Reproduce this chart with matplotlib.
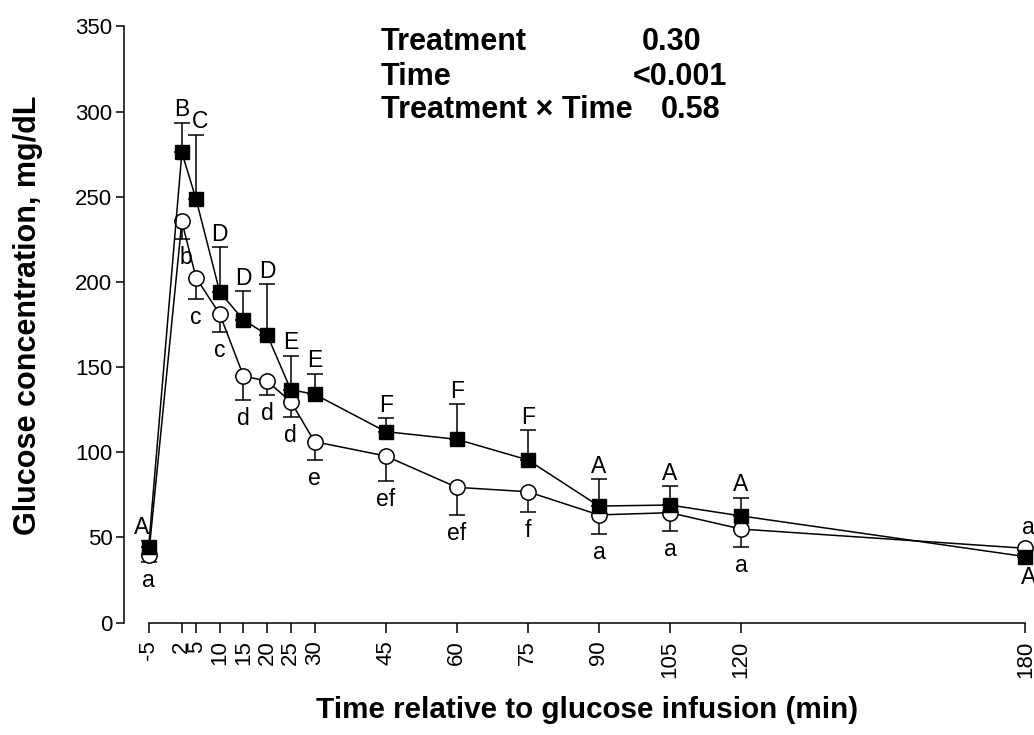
import matplotlib
matplotlib.use("Agg")
import matplotlib.pyplot as plt
import numpy as np

plt.rcParams['font.family'] = ['Liberation Sans', 'DejaVu Sans']

time = [-5, 2, 5, 10, 15, 20, 25, 30, 45, 60, 75, 90, 105, 120, 180]
sq_mean = [44.5, 276.0, 248.6, 194.0, 177.7, 168.9, 136.6, 134.1, 112.1, 107.6, 95.5, 68.4, 69.0, 62.6, 38.7]
sq_se = [3.5, 17.6, 37.8, 26.4, 16.9, 29.8, 20.0, 12.1, 7.9, 20.6, 17.4, 15.9, 11.2, 10.7, 1.5]
ci_mean = [39.7, 235.5, 202.4, 181.1, 144.8, 141.7, 129.7, 106.2, 97.8, 79.4, 76.8, 63.2, 64.5, 54.9, 43.6]
ci_se = [4.3, 10.2, 12.5, 10.6, 14.3, 8.0, 8.8, 10.7, 14.7, 16.1, 12.1, 11.2, 10.6, 10.4, 1.0]
upper_letters = ['A', 'B', 'C', 'D', 'D', 'D', 'E', 'E', 'F', 'F', 'F', 'A', 'A', 'A', 'A']
lower_letters = ['a', 'b', 'c', 'c', 'd', 'd', 'd', 'e', 'ef', 'ef', 'f', 'a', 'a', 'a', 'a']
stats_names = ['Treatment', 'Time', 'Treatment \u00d7 Time']
stats_values = ['0.30', '<0.001', '0.58']

fig = plt.figure(figsize=(10.34, 7.35), dpi=100)
ax = fig.add_axes([0.1195, 0.153, 0.8745, 0.811])

t = np.array(time)
sm, ss = np.array(sq_mean), np.array(sq_se)
cm, cs = np.array(ci_mean), np.array(ci_se)

# circles (lower SE only)
ax.errorbar(t, cm, yerr=[cs, np.zeros_like(cs)], fmt='none', ecolor='black',
            elinewidth=1.1, capsize=6, capthick=1.1, zorder=2, clip_on=False)
ax.plot(t, cm, '-o', color='black', lw=1.1, markersize=11, markerfacecolor='white',
        markeredgecolor='black', markeredgewidth=1.1, zorder=3, clip_on=False)
# squares (upper SE only)
ax.errorbar(t, sm, yerr=[np.zeros_like(ss), ss], fmt='none', ecolor='black',
            elinewidth=1.1, capsize=6, capthick=1.1, zorder=4, clip_on=False)
ax.plot(t, sm, '-s', color='black', lw=1.1, markersize=10, markerfacecolor='black',
        markeredgecolor='black', zorder=5, clip_on=False)

fs = 16.5
for i, tt in enumerate(time):
    if tt == 180:
        ax.annotate(lower_letters[i], (tt, cm[i]), xytext=(2, 7), textcoords='offset points',
                    ha='center', va='bottom', fontsize=fs)
        ax.annotate(upper_letters[i], (tt, sm[i]), xytext=(2, -7), textcoords='offset points',
                    ha='center', va='top', fontsize=fs)
        continue
    dx_u = 0
    if tt == -5:
        dx_u = -5
    elif tt == 5:
        dx_u = 3
    ax.annotate(upper_letters[i], (tt, sm[i] + ss[i]), xytext=(dx_u, 1), textcoords='offset points',
                ha='center', va='bottom', fontsize=fs)
    dx_l = 3 if tt == 2 else 0
    ax.annotate(lower_letters[i], (tt, cm[i] - cs[i]), xytext=(dx_l, -5), textcoords='offset points',
                ha='center', va='top', fontsize=fs)

ax.set_xlim(-10.3, 180.5)
ax.set_ylim(0, 350)
ax.set_xticks(time)
ax.set_xticklabels([str(v) for v in time], rotation=90, fontsize=16)
ax.set_yticks(np.arange(0, 351, 50))
ax.tick_params(axis='y', labelsize=16, direction='out', length=6, width=1.1, pad=2)
ax.tick_params(axis='x', direction='out', length=7, width=1.1, pad=6)
ax.spines['top'].set_visible(False)
ax.spines['right'].set_visible(False)
ax.spines['left'].set_linewidth(1.1)
ax.spines['bottom'].set_linewidth(1.1)
ax.spines['bottom'].set_bounds(-5, 180)

ax.set_ylabel('Glucose concentration, mg/dL', fontsize=22, fontweight='bold')
ax.yaxis.set_label_coords(-0.0896, 0.515)
ax.set_xlabel('Time relative to glucose infusion (min)', fontsize=21.3, fontweight='bold')
ax.xaxis.set_label_coords(0.513, -0.1225)

W, H = 1034, 735
name_y = [42, 77, 110]
val_x = [701, 727, 720]
for nm, vv, yy, xr in zip(stats_names, stats_values, name_y, val_x):
    fig.text(381 / W, 1 - yy / H, nm, fontsize=22, fontweight='bold', ha='left', va='center')
    fig.text(xr / W, 1 - yy / H, vv, fontsize=22, fontweight='bold', ha='right', va='center')

fig.savefig('out.png', dpi=100)
